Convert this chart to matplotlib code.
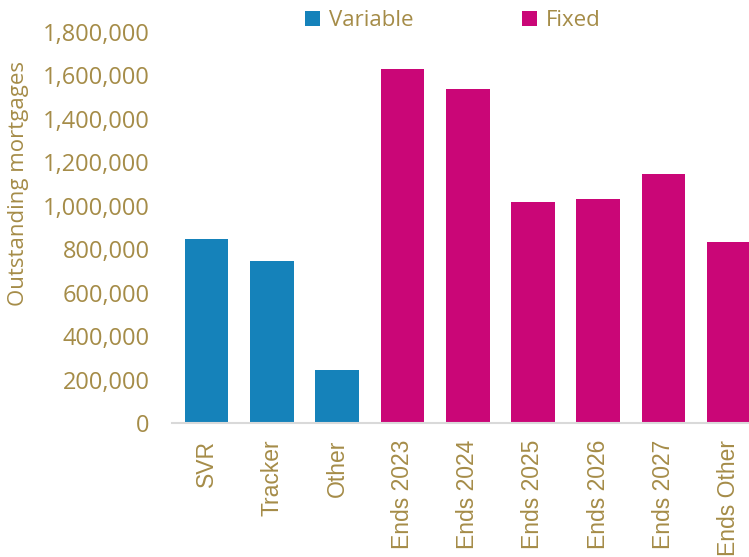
import matplotlib
matplotlib.use("Agg")
import matplotlib.pyplot as plt
from matplotlib.patches import Patch
from matplotlib.ticker import FuncFormatter

categories = ["SVR", "Tracker", "Other", "Ends 2023", "Ends 2024", "Ends 2025",
              "Ends 2026", "Ends 2027", "Ends Other"]
values = [848000, 746000, 244000, 1630000, 1537000, 1017000, 1031000, 1146000, 834000]
groups = ["Variable", "Variable", "Variable", "Fixed", "Fixed", "Fixed", "Fixed", "Fixed", "Fixed"]
series_names = ["Variable", "Fixed"]
colors = {"Variable": "#1582BA", "Fixed": "#CA0677"}
yticks = [0, 200000, 400000, 600000, 800000, 1000000, 1200000, 1400000, 1600000, 1800000]

gold = "#A58C48"

fig = plt.figure(figsize=(7.49, 5.57), dpi=100)
ax = fig.add_axes([172/749, (557-423)/557, (749-172)/749, (423-32)/557])

x = list(range(len(categories)))
ax.bar(x, values, width=0.67, color=[colors[g] for g in groups], zorder=2)

ax.set_xlim(-0.53, 8.31)
ax.set_ylim(0, 1800000)
ax.set_yticks(yticks)
ax.yaxis.set_major_formatter(FuncFormatter(lambda v, p: f"{int(v):,}"))
ax.set_xticks(x)
ax.set_xticklabels(categories, rotation=90, fontsize=16.5, color=gold,
                   family=["Liberation Sans", "DejaVu Sans"])
for lab in ax.get_yticklabels():
    lab.set_family(["Open Sans", "DejaVu Sans"])
    lab.set_fontsize(17)
    lab.set_color(gold)
ax.tick_params(axis="y", length=0, pad=16)
ax.tick_params(axis="x", length=0, pad=12)

for s in ["top", "right", "left"]:
    ax.spines[s].set_visible(False)
ax.spines["bottom"].set_color("#D9D9D9")
ax.spines["bottom"].set_linewidth(1.5)
ax.spines["bottom"].set_zorder(3)

fig.text(19/749, (557-184)/557, "Outstanding mortgages", rotation=90,
         ha="center", va="center", fontsize=16, color=gold,
         family=["Open Sans", "DejaVu Sans"])

handles = [Patch(facecolor=colors[n], edgecolor="none") for n in series_names]
leg = fig.legend(handles, series_names, loc="center", bbox_to_anchor=(453/749, (557-21)/557),
                 ncol=2, frameon=False, handlelength=0.68, handleheight=0.68,
                 handletextpad=0.4, columnspacing=4.9,
                 prop={"family": ["Open Sans", "DejaVu Sans"], "size": 16})
for t in leg.get_texts():
    t.set_color(gold)

fig.savefig("out.png", dpi=100)
